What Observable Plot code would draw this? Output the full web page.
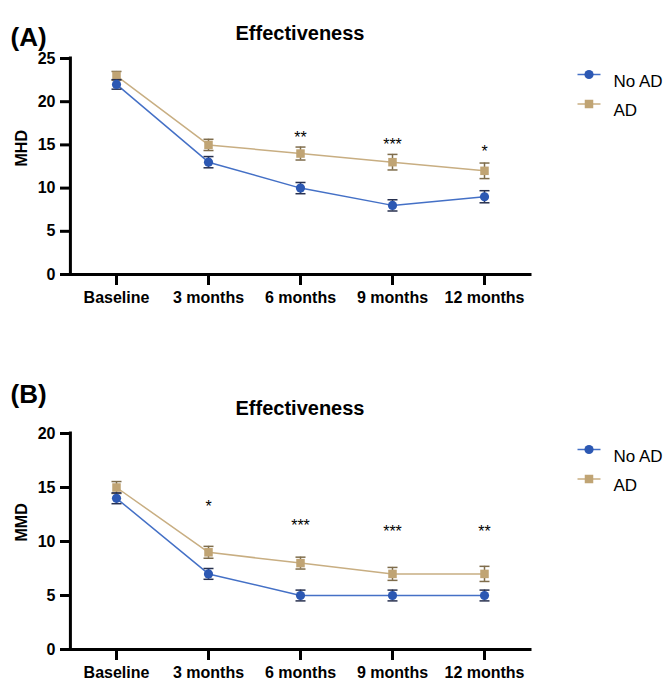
<!DOCTYPE html>
<html>
<head>
<meta charset="utf-8">
<script src="https://cdn.jsdelivr.net/npm/d3@7"></script>
<script src="https://cdn.jsdelivr.net/npm/@observablehq/plot@0.6"></script>
<style>
  html, body { margin: 0; padding: 0; background: #ffffff; }
  #wrap { position: relative; width: 665px; height: 680px; overflow: hidden; background: #ffffff; }
  #panelA { position: absolute; left: 0; top: 0; }
  #panelB { position: absolute; left: 0; top: 330px; }
</style>
</head>
<body>
<div id="wrap">
  <div id="panelA"></div>
  <div id="panelB"></div>
</div>
<script>
// ---------- data ----------
const categories = ["Baseline", "3 months", "6 months", "9 months", "12 months"];
const seriesNames = ["No AD", "AD"];

// Panel A: MHD
const mhdNoAD = [22, 13, 10, 8, 9];
const mhdNoADErr = [0.55, 0.65, 0.65, 0.65, 0.7];
const mhdAD = [23, 15, 14, 13, 12];
const mhdADErr = [0.5, 0.65, 0.75, 0.9, 0.9];
const mhdStars = ["", "", "**", "***", "*"];
const mhdStarPos = [null, null, 16.3, 15.5, 14.7];
const mhdTicks = [0, 5, 10, 15, 20, 25];

// Panel B: MMD
const mmdNoAD = [14, 7, 5, 5, 5];
const mmdNoADErr = [0.5, 0.5, 0.5, 0.5, 0.5];
const mmdAD = [15, 9, 8, 7, 7];
const mmdADErr = [0.55, 0.55, 0.55, 0.6, 0.7];
const mmdStars = ["", "*", "***", "***", "**"];
const mmdStarPos = [null, 13.6, 11.8, 11.3, 11.3];
const mmdTicks = [0, 5, 10, 15, 20];

// ---------- style ----------
const FONT = "'Liberation Sans', Arial, Helvetica, sans-serif";
const BLUE = "#2c58b3";
const BLUE_LINE = "#4470c6";
const BLUE_ERR = "#27304f";
const TAN = "#c0a474";
const TAN_LINE = "#c8ae82";
const TAN_ERR = "#7f6d4c";

const W = 665, ML = 69, MR = 135;
const step = (W - ML - MR) / categories.length;

const hline = (w) => ({ draw(ctx) { ctx.moveTo(-w, 0); ctx.lineTo(w, 0); } });

function rows(vals, errs) {
  return categories.map((c, i) => ({ cat: c, v: vals[i], lo: vals[i] - errs[i], hi: vals[i] + errs[i] }));
}

function panel({ noAD, noADErr, ad, adErr, stars, starPos, ticks, yMax, ylabel, tag,
                 height, marginTop, marginBottom, titleBase, tagBase }) {
  const r1 = rows(noAD, noADErr);
  const r2 = rows(ad, adErr);
  const starRows = categories.map((c, i) => ({ cat: c, s: stars[i], y: starPos[i] })).filter(d => d.s);
  const seriesMarks = (r, color, lineColor, errColor, symbol, rad) => [
    Plot.ruleX(r, { x: "cat", y1: "lo", y2: "hi", stroke: errColor, strokeWidth: 1.5 }),
    Plot.dot(r, { x: "cat", y: "lo", symbol: hline(5), fill: "none", stroke: errColor, strokeWidth: 1.5 }),
    Plot.dot(r, { x: "cat", y: "hi", symbol: hline(5), fill: "none", stroke: errColor, strokeWidth: 1.5 }),
    Plot.dot(r, { x: "cat", y: "v", symbol, r: rad, fill: color, stroke: "none" })
  ];
  const legend = (name, i, color, lineColor, symbol, rad) => {
    const dy = i === 0 ? 16 : 45.5;
    return [
      Plot.dot([name], { frameAnchor: "top-right", dx: 58.5, dy, symbol: hline(11.5), fill: "none", stroke: lineColor, strokeWidth: 1.5 }),
      Plot.dot([name], { frameAnchor: "top-right", dx: 58.5, dy, symbol, r: rad, fill: color, stroke: "none" }),
      Plot.text([name], { frameAnchor: "top-right", dx: 83, dy, text: d => d, textAnchor: "start",
                          fontSize: 17, fontWeight: "normal", fill: "#000" })
    ];
  };
  return Plot.plot({
    width: W, height, marginTop, marginBottom, marginLeft: ML, marginRight: MR,
    x: { type: "point", domain: categories, padding: 0.5 },
    y: { domain: [0, yMax] },
    style: { fontFamily: FONT, fontWeight: "bold", background: "#ffffff", color: "#000", overflow: "visible" },
    marks: [
      // axes
      Plot.axisY({ ticks, tickSize: 9, tickPadding: 5, fontSize: 16, strokeWidth: 3, label: null, tickFormat: d => String(d) }),
      Plot.axisX({ tickSize: 11, tickPadding: 6, fontSize: 16, strokeWidth: 3, label: null }),
      Plot.ruleY([0], { stroke: "#000", strokeWidth: 3, strokeLinecap: "square" }),
      Plot.ruleX([categories[0]], { x: d => d, y1: 0, y2: yMax, dx: -step / 2, stroke: "#000", strokeWidth: 3, strokeLinecap: "square" }),
      Plot.text([ylabel], { frameAnchor: "left", text: d => d, rotate: -90, dx: -48, fontSize: 16, fontWeight: "bold" }),
      // lines
      Plot.line(r2, { x: "cat", y: "v", stroke: TAN_LINE, strokeWidth: 1.5 }),
      Plot.line(r1, { x: "cat", y: "v", stroke: BLUE_LINE, strokeWidth: 1.5 }),
      ...seriesMarks(r2, TAN, TAN_LINE, TAN_ERR, "square", 4.8),
      ...seriesMarks(r1, BLUE, BLUE_LINE, BLUE_ERR, "circle", 4.6),
      // significance stars
      Plot.text(starRows, { x: "cat", y: "y", text: "s", fontSize: 16, fontWeight: "normal", dy: 4, fill: "#000" }),
      // titles
      Plot.text(["Effectiveness"], { frameAnchor: "top", text: d => d, fontSize: 20, fontWeight: "bold",
                                     dy: titleBase - marginTop - 0.32 * 20 }),
      Plot.text([tag], { frameAnchor: "top-left", text: d => d, textAnchor: "start", fontSize: 26, fontWeight: "bold",
                         dx: 10 - ML, dy: tagBase - marginTop - 0.32 * 26 }),
      // legend
      ...legend(seriesNames[0], 0, BLUE, BLUE_LINE, "circle", 4.6),
      ...legend(seriesNames[1], 1, TAN, TAN_LINE, "square", 4.8)
    ]
  });
}

document.getElementById("panelA").appendChild(panel({
  noAD: mhdNoAD, noADErr: mhdNoADErr, ad: mhdAD, adErr: mhdADErr,
  stars: mhdStars, starPos: mhdStarPos, ticks: mhdTicks, yMax: 25, ylabel: "MHD", tag: "(A)",
  height: 330, marginTop: 58, marginBottom: 56, titleBase: 32, tagBase: 35
}));

document.getElementById("panelB").appendChild(panel({
  noAD: mmdNoAD, noADErr: mmdNoADErr, ad: mmdAD, adErr: mmdADErr,
  stars: mmdStars, starPos: mmdStarPos, ticks: mmdTicks, yMax: 20, ylabel: "MMD", tag: "(B)",
  height: 350, marginTop: 103, marginBottom: 31, titleBase: 77, tagBase: 62
}));
</script>
</body>
</html>
